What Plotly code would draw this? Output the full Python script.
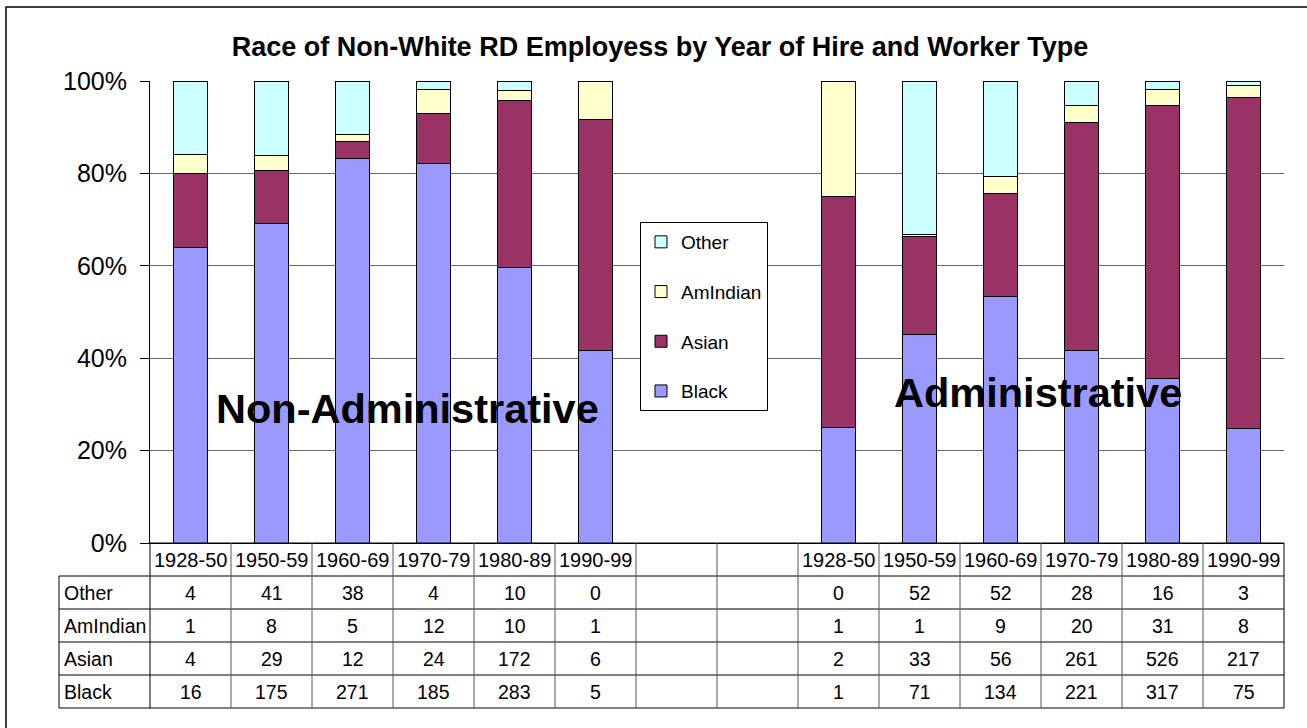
import plotly.graph_objects as go

periods = ["1928-50", "1950-59", "1960-69", "1970-79", "1980-89", "1990-99"]
groups = ["Non-Administrative", "Administrative"]
races_bottom_up = ["Black", "Asian", "AmIndian", "Other"]
table_rows = ["Other", "AmIndian", "Asian", "Black"]
y_ticks = [0, 20, 40, 60, 80, 100]
y_tick_text = ["0%", "20%", "40%", "60%", "80%", "100%"]

nonadmin_other = [4, 41, 38, 4, 10, 0]
nonadmin_amindian = [1, 8, 5, 12, 10, 1]
nonadmin_asian = [4, 29, 12, 24, 172, 6]
nonadmin_black = [16, 175, 271, 185, 283, 5]

admin_other = [0, 52, 52, 28, 16, 3]
admin_amindian = [1, 1, 9, 20, 31, 8]
admin_asian = [2, 33, 56, 261, 526, 217]
admin_black = [1, 71, 134, 221, 317, 75]

n_gap = 2
colors = {"Black": "#9999FF", "Asian": "#993366", "AmIndian": "#FFFFCC", "Other": "#CCFFFF"}

nonadmin = {"Other": nonadmin_other, "AmIndian": nonadmin_amindian,
            "Asian": nonadmin_asian, "Black": nonadmin_black}
admin = {"Other": admin_other, "AmIndian": admin_amindian,
         "Asian": admin_asian, "Black": admin_black}

# categories: 6 non-admin, 2 blank spacer columns, 6 admin
cats = (["NA " + p for p in periods] + ["gap%d" % i for i in range(n_gap)]
        + ["AD " + p for p in periods])
header_labels = periods + [""] * n_gap + periods
ncat = len(cats)

def series(race):
    return nonadmin[race] + [None] * n_gap + admin[race]

FONT = "Liberation Sans, Arial, sans-serif"

# ---------------- layout geometry ----------------
W, H = 1307, 728
ML, MR, MT, MB = 150, 23, 81, 20
plot_w = W - ML - MR
plot_h = H - MT - MB
row_h = 33 / plot_h           # table row height in paper units
n_rows = 1 + len(table_rows)  # header + data rows
bar_dom0 = n_rows * row_h

def px_x(px):
    return (px - ML) / plot_w

def px_y(py):
    return (H - MB - py) / plot_h

fig = go.Figure()
for race in races_bottom_up:
    fig.add_trace(go.Bar(
        x=cats, y=series(race), name=race, legendgroup=race,
        legendrank=table_rows.index(race) + 1,
        marker=dict(color=colors[race], line=dict(color="black", width=1)),
    ))

shapes = []
annotations = []
line_black = dict(color="black", width=1)
line_gray = dict(color="#555555", width=1)

label_left = px_x(59)
# horizontal lines of the table
for r in range(n_rows):
    yv = bar_dom0 - r * row_h
    x0 = 0 if r == 0 else label_left
    shapes.append(dict(type="line", xref="paper", yref="paper", x0=x0, x1=1,
                       y0=yv, y1=yv, line=line_black))
shapes.append(dict(type="line", xref="paper", yref="paper", x0=label_left, x1=1,
                   y0=0, y1=0, line=line_black))
# vertical lines of the table
for i in range(ncat + 1):
    xv = i / ncat
    shapes.append(dict(type="line", xref="paper", yref="paper", x0=xv, x1=xv,
                       y0=0, y1=bar_dom0, line=line_gray if 0 < i < ncat else line_black))
shapes.append(dict(type="line", xref="paper", yref="paper", x0=label_left, x1=label_left,
                   y0=0, y1=bar_dom0 - row_h, line=line_black))
# outer chart frame
shapes.append(dict(type="rect", xref="paper", yref="paper",
                   x0=px_x(6), x1=px_x(1315), y0=px_y(735), y1=px_y(7),
                   line=dict(color="black", width=1.5), fillcolor="rgba(0,0,0,0)",
                   layer="below"))

# header row text
for i, lab in enumerate(header_labels):
    if lab:
        annotations.append(dict(xref="x", yref="paper", x=i, y=bar_dom0 - row_h / 2,
                                xanchor="center", yanchor="middle",
                                text=lab, showarrow=False,
                                font=dict(family=FONT, size=20, color="black")))
# data rows text
for r, race in enumerate(table_rows):
    yc = bar_dom0 - (r + 1.5) * row_h
    annotations.append(dict(xref="paper", yref="paper", x=px_x(62), y=yc,
                            xanchor="left", yanchor="middle", text=race, showarrow=False,
                            font=dict(family=FONT, size=19.5, color="black")))
    vals = series(race)
    for i, v in enumerate(vals):
        if v is not None:
            annotations.append(dict(xref="x", yref="paper", x=i, y=yc,
                                    xanchor="center", yanchor="middle",
                                    text=str(v), showarrow=False,
                                    font=dict(family=FONT, size=19.5, color="black")))

# group labels
annotations.append(dict(xref="x", yref="y", x=2.68, y=29.2, text="<b>" + groups[0] + "</b>",
                        showarrow=False, font=dict(family=FONT, size=41.5, color="black")))
annotations.append(dict(xref="x", yref="y", x=10.46, y=32.6, text="<b>" + groups[1] + "</b>",
                        showarrow=False, font=dict(family=FONT, size=41.5, color="black")))

fig.update_layout(
    width=W, height=H,
    margin=dict(l=ML, r=MR, t=MT, b=MB, autoexpand=False),
    paper_bgcolor="white", plot_bgcolor="white",
    barmode="stack", barnorm="percent", bargap=0.59,
    title=dict(text="<b>Race of Non-White RD Employess by Year of Hire and Worker Type</b>",
               x=660 / W, xanchor="center", xref="container",
               y=1 - 47 / H, yanchor="middle",
               font=dict(family=FONT, size=27, color="black")),
    font=dict(family=FONT, color="black"),
    xaxis=dict(type="category", categoryorder="array", categoryarray=cats,
               range=[-0.5, ncat - 0.5], showticklabels=False, ticks="",
               showline=True, linecolor="black", linewidth=1, showgrid=False,
               fixedrange=True),
    yaxis=dict(domain=[bar_dom0, 1], range=[0, 100], tickmode="array",
               tickvals=y_ticks, ticktext=y_tick_text,
               ticks="outside", ticklen=9, tickcolor="black",
               showline=True, linecolor="black", linewidth=1,
               showgrid=True, gridcolor="#666666", gridwidth=1, zeroline=False,
               tickfont=dict(family=FONT, size=25, color="black"),
               ticklabelstandoff=8, fixedrange=True),
    legend=dict(x=px_x(640), y=px_y(222), xanchor="left", yanchor="top",
                bgcolor="white", bordercolor="black", borderwidth=1,
                font=dict(family=FONT, size=19, color="black"),
                traceorder="grouped", tracegroupgap=22),
    shapes=shapes, annotations=annotations, showlegend=True,
)

fig.write_html("out.html", config={"displayModeBar": False},
               post_script="document.body.style.margin='0';")
